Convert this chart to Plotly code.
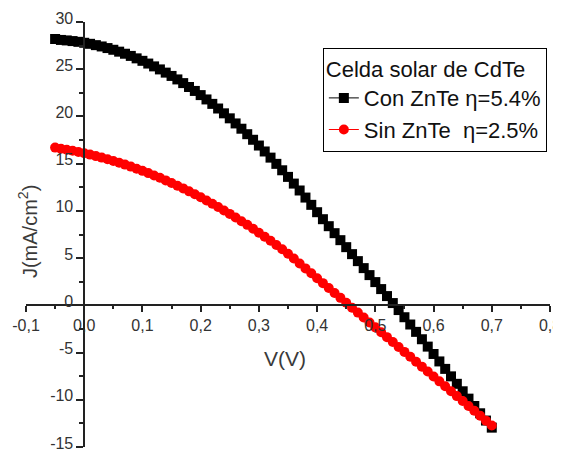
import plotly.graph_objects as go

# Voltage (V)
v = [round(-0.05 + 0.01 * i, 2) for i in range(76)]

# Con ZnTe (mA/cm2)
j_con = [28.2, 28.1, 28.05, 27.98, 27.9, 27.8, 27.69, 27.55, 27.41, 27.24,
         27.06, 26.86, 26.64, 26.41, 26.15, 25.89, 25.6, 25.3, 24.98, 24.64,
         24.29, 23.92, 23.53, 23.12, 22.7, 22.26, 21.8, 21.33, 20.84, 20.33,
         19.8, 19.26, 18.7, 18.12, 17.53, 16.92, 16.29, 15.64, 14.98, 14.3,
         13.6, 12.89, 12.16, 11.41, 10.64, 9.86, 9.12, 8.38, 7.64, 6.9,
         6.16, 5.42, 4.68, 3.94, 3.2, 2.46, 1.72, 0.98, 0.24, -0.5,
         -1.26, -2.03, -2.81, -3.59, -4.37, -5.15, -5.94, -6.73, -7.52, -8.31,
         -9.1, -9.88, -10.66, -11.43, -12.2, -12.95]

# Sin ZnTe (mA/cm2)
j_sin = [16.7, 16.58, 16.48, 16.36, 16.23, 16.1, 15.96, 15.8, 15.64, 15.47,
         15.29, 15.1, 14.9, 14.69, 14.47, 14.24, 14.0, 13.75, 13.5, 13.23,
         12.96, 12.67, 12.38, 12.07, 11.76, 11.44, 11.1, 10.76, 10.41, 10.05,
         9.68, 9.3, 8.91, 8.52, 8.11, 7.69, 7.27, 6.83, 6.38, 5.93,
         5.47, 4.95, 4.43, 3.91, 3.39, 2.87, 2.35, 1.83, 1.31, 0.79,
         0.27, -0.25, -0.77, -1.29, -1.81, -2.33, -2.85, -3.37, -3.89, -4.41,
         -4.93, -5.45, -5.97, -6.49, -7.01, -7.53, -8.05, -8.57, -9.09, -9.61,
         -10.13, -10.65, -11.17, -11.69, -12.21, -12.73]

x_tickvals = [-0.1, 0.0, 0.1, 0.2, 0.3, 0.4, 0.5, 0.6, 0.7, 0.8]
x_ticktext = ["-0,1", "0,0", "0,1", "0,2", "0,3", "0,4", "0,5", "0,6", "0,7", "0,8"]
x_minor = [-0.05, 0.05, 0.15, 0.25, 0.35, 0.45, 0.55, 0.65, 0.75]
y_tickvals = [-15, -10, -5, 0, 5, 10, 15, 20, 25, 30]
y_ticktext = ["-15", "-10", "-5", "0", "5", "10", "15", "20", "25", "30"]
y_minor = [-12.5, -7.5, -2.5, 2.5, 7.5, 12.5, 17.5, 22.5, 27.5]

FONT = "Liberation Sans, Arial, sans-serif"

fig = go.Figure()
fig.add_trace(go.Scatter(
    x=v, y=j_con, mode="lines+markers", name="Con ZnTe \u03b7=5.4%",
    line=dict(color="black", width=1),
    marker=dict(symbol="square", size=10, color="black"),
))
fig.add_trace(go.Scatter(
    x=v, y=j_sin, mode="lines+markers", name="Sin ZnTe  \u03b7=2.5%",
    line=dict(color="red", width=1),
    marker=dict(symbol="circle", size=10, color="red"),
))

axis_common = dict(
    showgrid=False, zeroline=False, showline=True, linecolor="#222",
    linewidth=1.5, ticks="outside", tickcolor="#222", tickwidth=1.5,
    tickfont=dict(family=FONT, size=16, color="#333"),
    tickmode="array", ticklabeloverflow="allow", automargin=False,
)

fig.update_layout(
    width=553, height=445,
    margin=dict(l=18, r=11, t=14, b=6, autoexpand=False),
    paper_bgcolor="white", plot_bgcolor="white",
    showlegend=True,
    xaxis=dict(
        range=[-0.1, 0.8], anchor="free", position=1/3,
        tickvals=x_tickvals, ticktext=x_ticktext, ticklen=6,
        minor=dict(tickmode="array", tickvals=x_minor, ticks="outside",
                   ticklen=3, tickcolor="#222", tickwidth=1.5),
        **axis_common,
    ),
    yaxis=dict(
        range=[-15, 30], anchor="free", position=0.1/0.9,
        tickvals=y_tickvals, ticktext=y_ticktext, ticklen=7,
        ticklabelshift=-4,
        minor=dict(tickmode="array", tickvals=y_minor, ticks="outside",
                   ticklen=4, tickcolor="#222", tickwidth=1.5),
        **axis_common,
    ),
    legend=dict(
        x=0.994, y=0.94, xanchor="right", yanchor="top",
        bgcolor="white", bordercolor="black", borderwidth=1,
        font=dict(family=FONT, size=22, color="#111"),
        title=dict(text="Celda solar de CdTe",
                   font=dict(family=FONT, size=22, color="#111")),
        tracegroupgap=0,
    ),
    annotations=[
        dict(text="V(V)", xref="paper", yref="paper", x=0.494, y=0.209,
             xanchor="center", yanchor="middle", showarrow=False,
             font=dict(family=FONT, size=21, color="#3a3a3a")),
        dict(text="J(mA/cm<sup>2</sup>)", xref="paper", yref="paper",
             x=0.004, y=0.506, xanchor="center", yanchor="middle",
             textangle=-90, showarrow=False,
             font=dict(family=FONT, size=20, color="#3a3a3a")),
    ],
)

fig.write_html("out.html")
